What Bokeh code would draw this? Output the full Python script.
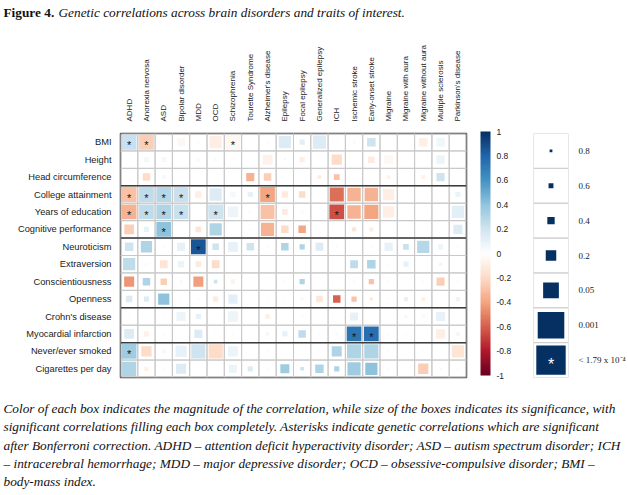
import numpy as np
from bokeh.plotting import figure
from bokeh.models import (ColumnDataSource, LinearColorMapper, ColorBar, FixedTicker,
                          CustomJSTickFormatter, Span, Label, FactorRange, Range1d)
from bokeh.transform import transform
from bokeh.layouts import column, row
from bokeh.embed import file_html
from bokeh.resources import INLINE
from bokeh.core.properties import value

# ---------------- data ----------------
COLS = ["ADHD", "Anorexia nervosa", "ASD", "Bipolar disorder", "MDD", "OCD", "Schizophrenia",
        "Tourette Syndrome", "Alzheimer's disease", "Epilepsy", "Focal epilepsy",
        "Generalized epilepsy", "ICH", "Ischemic stroke", "Early-onset stroke", "Migraine",
        "Migraine with aura", "Migraine without aura", "Multiple sclerosis", "Parkinson's disease"]
ROWS = ["BMI", "Height", "Head circumference", "College attainment", "Years of education",
        "Cognitive performance", "Neuroticism", "Extraversion", "Conscientiousness", "Openness",
        "Crohn's disease", "Myocardial infarction", "Never/ever smoked", "Cigarettes per day"]
GROUP_SIZES = [3, 3, 4, 2, 2]

# genetic correlation (rows x cols)
R = [
    [0.22, -0.25, 0, -0.05, 0.03, -0.1, -0.05, 0, 0.02, 0.15, 0.12, 0.15, 0.02, 0.05, 0.2, 0, 0.02, -0.1, 0.06, 0],
    [0, 0.05, -0.05, 0, 0.03, 0.03, 0.01, 0, -0.08, 0.05, -0.1, 0.02, -0.2, 0.01, -0.12, -0.05, 0, 0, 0.07, 0],
    [-0.02, -0.2, 0.05, 0.01, 0, 0, 0.01, -0.35, -0.25, 0, 0, -0.12, -0.3, 0.01, 0, -0.08, 0.01, -0.08, 0.2, 0],
    [-0.3, 0.25, 0.28, 0.22, -0.1, 0.15, 0.05, 0.1, -0.4, -0.12, -0.2, 0, -0.55, -0.35, -0.35, -0.1, 0, 0.01, 0, 0.08],
    [-0.35, 0.25, 0.3, 0.22, 0, 0.2, 0.07, 0.02, -0.3, -0.12, -0.05, 0, -0.65, -0.35, -0.4, -0.1, 0, 0, 0, 0.12],
    [-0.25, 0.1, 0.4, 0, -0.15, 0.3, -0.02, 0.02, -0.35, -0.2, -0.4, 0, 0, -0.15, -0.1, -0.02, 0, 0, 0, 0.15],
    [0.2, 0.3, 0.02, 0.1, 0.85, 0.2, 0.1, 0.2, 0.02, 0.3, 0.3, 0.15, 0.02, 0, 0.02, 0.1, 0.22, 0.28, 0.07, 0.02],
    [0.25, -0.05, -0.15, 0.08, -0.12, -0.2, 0, 0, 0, 0, 0, 0.02, 0, 0.25, 0.3, 0.02, 0.1, 0, -0.08, 0],
    [-0.45, 0.3, -0.25, -0.05, -0.42, 0.2, -0.08, 0, 0, 0.02, 0.3, 0, 0, -0.05, -0.3, 0.02, 0, 0.02, -0.25, 0.02],
    [0.15, 0.15, 0.4, 0.02, 0.02, -0.12, 0.12, 0, 0.02, 0.02, 0.05, -0.15, -0.6, -0.3, -0.15, 0.02, 0.1, -0.1, 0, 0.08],
    [-0.02, -0.02, 0.02, 0.07, 0.1, 0, 0.07, 0.02, -0.1, -0.02, 0.02, 0, 0, 0.1, 0, 0, 0.05, -0.05, 0.1, 0],
    [0.15, -0.08, 0.02, 0, 0.15, 0.02, 0.02, 0, 0.05, 0.1, 0.25, 0.02, 0.03, 0.72, 0.75, 0.02, 0.02, 0, -0.1, 0.05],
    [0.35, -0.2, 0.05, 0.1, 0.2, -0.2, 0.08, 0, 0.02, 0, 0, 0.02, 0.3, 0.3, 0.3, 0.02, 0, 0.02, 0.02, -0.15],
    [0.3, -0.08, 0.02, 0.15, 0, 0, 0.08, 0.15, 0.02, 0.35, 0.2, 0.3, 0.3, 0.35, 0.4, 0.02, 0, -0.25, -0.05, 0.02],
]
# p-values (rows x cols)
P = [
    [1e-5, 1e-5, 0.95, 0.04, 0.6, 0.002, 1e-5, 0.95, 0.6, 0.002, 0.2, 0.001, 0.7, 0.6, 0.03, 0.95, 0.7, 0.03, 0.03, 0.95],
    [0.95, 0.2, 0.2, 0.95, 0.5, 0.5, 0.7, 0.95, 0.012, 0.6, 0.2, 0.7, 0.008, 0.7, 0.1, 0.03, 0.95, 0.95, 0.03, 0.95],
    [0.6, 0.06, 0.4, 0.7, 0.95, 0.95, 0.7, 0.04, 0.06, 0.95, 0.95, 0.4, 0.15, 0.7, 0.95, 0.4, 0.7, 0.4, 0.04, 0.95],
    [1e-5, 1e-5, 1e-5, 1e-5, 0.1, 0.002, 0.2, 0.2, 1e-5, 0.1, 0.1, 0.95, 3e-4, 7e-4, 7e-4, 0.004, 0.95, 0.7, 0.95, 0.2],
    [1e-5, 1e-5, 1e-5, 1e-5, 0.95, 1e-5, 0.006, 0.6, 4e-4, 0.15, 0.5, 0.95, 1e-5, 7e-4, 3e-4, 0.004, 0.95, 0.95, 0.95, 0.002],
    [0.012, 0.2, 1e-5, 0.95, 0.15, 0.002, 0.6, 0.6, 0.001, 0.06, 0.06, 0.95, 0.95, 0.3, 0.3, 0.6, 0.95, 0.95, 0.95, 0.02],
    [0.03, 0.004, 0.6, 0.04, 1e-5, 0.1, 0.012, 0.06, 0.6, 0.06, 0.2, 0.05, 0.6, 0.95, 0.6, 0.04, 0.15, 0.002, 0.2, 0.6],
    [0.002, 0.6, 0.05, 0.1, 0.15, 0.05, 0.95, 0.95, 0.95, 0.95, 0.95, 0.6, 0.95, 0.05, 0.03, 0.6, 0.2, 0.95, 0.5, 0.95],
    [0.01, 0.06, 0.1, 0.5, 0.01, 0.4, 0.3, 0.95, 0.95, 0.6, 0.2, 0.95, 0.95, 0.6, 0.2, 0.6, 0.95, 0.6, 0.04, 0.6],
    [0.1, 0.2, 0.004, 0.6, 0.6, 0.2, 0.02, 0.95, 0.6, 0.6, 0.6, 0.1, 0.06, 0.2, 0.5, 0.6, 0.3, 0.4, 0.95, 0.3],
    [0.6, 0.6, 0.7, 0.02, 0.2, 0.95, 0.008, 0.7, 0.3, 0.6, 0.6, 0.95, 0.95, 0.04, 0.95, 0.95, 0.5, 0.4, 0.02, 0.95],
    [0.012, 0.2, 0.6, 0.95, 0.04, 0.6, 0.6, 0.95, 0.4, 0.2, 0.06, 0.6, 0.5, 1e-5, 1e-5, 0.6, 0.6, 0.95, 0.02, 0.3],
    [1e-5, 0.008, 0.4, 0.004, 3e-4, 3e-4, 0.01, 0.95, 0.6, 0.95, 0.95, 0.6, 0.01, 3e-4, 3e-4, 0.6, 0.95, 0.6, 0.6, 0.002],
    [3e-4, 0.3, 0.6, 0.01, 0.95, 0.95, 0.05, 0.2, 0.6, 0.02, 0.4, 0.03, 0.2, 0.001, 0.002, 0.6, 0.95, 0.008, 0.6, 0.6],
]
BONFERRONI = 1.79e-4
LEG_P = [0.8, 0.6, 0.4, 0.2, 0.05, 0.001, 1.79e-4]
LEG_LABELS = ["0.8", "0.6", "0.4", "0.2", "0.05", "0.001", "< 1.79 x 10\u207b\u2074"]
CB_TICKS = [-1, -0.8, -0.6, -0.4, -0.2, 0, 0.2, 0.4, 0.6, 0.8, 1]

TITLE_BOLD = "Figure 4."
TITLE_ITALIC = "Genetic correlations across brain disorders and traits of interest."
CAPTION = [
    "Color of each box indicates the magnitude of the correlation, while size of the boxes indicates its significance, with",
    "significant correlations filling each box completely. Asterisks indicate genetic correlations which are significant",
    "after Bonferroni correction. ADHD \u2013 attention deficit hyperactivity disorder; ASD \u2013 autism spectrum disorder; ICH",
    "\u2013 intracerebral hemorrhage; MDD \u2013 major depressive disorder; OCD \u2013 obsessive-compulsive disorder; BMI \u2013",
    "body-mass index.",
]

# ---------------- styling helpers ----------------
ANCHORS = ["#67001F", "#B2182B", "#D6604D", "#F4A582", "#FDDBC7", "#FFFFFF",
           "#D1E5F0", "#92C5DE", "#4393C3", "#2166AC", "#053061"]


def ramp(anchors, n):
    rgb = np.array([[int(a[i:i + 2], 16) for i in (1, 3, 5)] for a in anchors], float)
    pos = np.linspace(0, 1, len(anchors))
    t = np.linspace(0, 1, n)
    out = np.stack([np.interp(t, pos, rgb[:, k]) for k in range(3)], axis=1)
    return ["#%02x%02x%02x" % tuple(int(round(v)) for v in c) for c in out]


PALETTE = ramp(ANCHORS, 200)
mapper = LinearColorMapper(palette=PALETTE, low=-1, high=1)

SIZE_LOGP = [0, 0.097, 0.222, 0.398, 0.699, 1.301, 3.0, 3.747, 6.0]
SIZE_FRAC = [0, 0.08, 0.14, 0.21, 0.30, 0.45, 0.76, 0.84, 0.86]


def box_size(p):
    return np.interp(-np.log10(np.asarray(p, float)), SIZE_LOGP, SIZE_FRAC)


SANS = "Liberation Sans"
SERIF = "Liberation Serif"

# ---------------- heatmap ----------------
xs, ys, rs, ps = [], [], [], []
for i, rname in enumerate(ROWS):
    for j, cname in enumerate(COLS):
        xs.append(cname)
        ys.append(rname)
        rs.append(R[i][j])
        ps.append(P[i][j])
ps = np.array(ps)
src = ColumnDataSource(dict(x=xs, y=ys, r=rs, s=box_size(ps)))
sig = ps < BONFERRONI
star_src = ColumnDataSource(dict(x=[x for x, k in zip(xs, sig) if k], y=[y for y, k in zip(ys, sig) if k]))

HEAD_H = 26
main = figure(width=470, height=359, x_range=FactorRange(*COLS), y_range=FactorRange(*ROWS[::-1]),
              x_axis_location="above", toolbar_location=None, output_backend="svg",
              min_border_left=120, min_border_right=4, min_border_top=107, min_border_bottom=8)
main.rect(x="x", y="y", width=1, height=1, source=src, fill_color=None,
          line_color="#c8c8c8", line_width=1)
main.rect(x="x", y="y", width="s", height="s", source=src,
          fill_color=transform("r", mapper), line_color=None)
main.text(x="x", y="y", text=value("*"), source=star_src, text_align="center",
          text_baseline="middle", text_font_size="11px", text_color="#111111", y_offset=3,
          text_font=value(SANS))

nrows = len(ROWS)
cum = 0
for g in GROUP_SIZES[:-1]:
    cum += g
    main.add_layout(Span(location=nrows - cum, dimension="width", line_color="#3c3c3c", line_width=1.5))

main.outline_line_color = "#3c3c3c"
main.outline_line_width = 1.5
main.xgrid.grid_line_color = None
main.ygrid.grid_line_color = None
for ax in (main.xaxis[0], main.yaxis[0]):
    ax.axis_line_color = None
    ax.major_tick_line_color = None
    ax.minor_tick_line_color = None
    ax.major_label_text_font = SANS
    ax.major_label_text_color = "#1a1a1a"
main.xaxis.major_label_text_font_size = "8px"
main.yaxis.major_label_text_font_size = "9.3px"
main.xaxis.major_label_orientation = np.pi / 2
main.xaxis.major_label_standoff = 6
main.yaxis.major_label_standoff = 3

# ---------------- legends ----------------
pfig = figure(width=158, height=359, x_range=FactorRange("p"), y_range=FactorRange(*LEG_LABELS[::-1]),
              x_axis_location=None, y_axis_location="right", toolbar_location=None,
              output_backend="svg", min_border_left=63, min_border_right=60,
              min_border_top=107, min_border_bottom=5)
lsrc = ColumnDataSource(dict(x=["p"] * len(LEG_P), y=LEG_LABELS, s=box_size(LEG_P),
                             r=[1] * len(LEG_P)))
pfig.rect(x="x", y="y", width=1, height=1, source=lsrc, fill_color=None, line_color="#d0d0d0")
pfig.rect(x="x", y="y", width="s", height="s", source=lsrc,
          fill_color=transform("r", mapper), line_color=None)
pfig.text(x=["p"], y=[LEG_LABELS[-1]], text=["*"], text_align="center", text_baseline="middle",
          text_color="white", text_font_size="16px", y_offset=4, text_font=value(SANS))
pfig.outline_line_color = None
pfig.xgrid.grid_line_color = None
pfig.ygrid.grid_line_color = None
ay = pfig.yaxis[0]
ay.axis_line_color = None
ay.major_tick_line_color = None
ay.minor_tick_line_color = None
ay.major_label_text_font = SERIF
ay.major_label_text_font_size = "9px"
ay.major_label_text_color = "#1a1a1a"
ay.major_label_standoff = 4

cb = ColorBar(color_mapper=mapper, ticker=FixedTicker(ticks=CB_TICKS),
              formatter=CustomJSTickFormatter(code="return tick.toString()"),
              width=10, height=244, location=(-53, 2), padding=0, margin=0, label_standoff=6,
              major_tick_line_color=None, minor_tick_line_color=None, bar_line_color=None,
              border_line_color=None, background_fill_color=None,
              major_label_text_font=SANS, major_label_text_font_size="8.5px",
              major_label_text_color="#1a1a1a")
pfig.add_layout(cb, "center")

for txt, x, y in [("Genetic", -53, 277), ("correlation", -53, 265),
                  ("P-value", 0, 277), ("significance", 0, 265)]:
    pfig.add_layout(Label(x=x, y=y, x_units="screen", y_units="screen", text=txt,
                          text_font=SERIF, text_font_size="10.5px", text_baseline="middle",
                          text_color="#1a1a1a"))

# ---------------- title / caption ----------------
head = figure(width=628, height=HEAD_H, x_range=Range1d(0, 628), y_range=Range1d(HEAD_H, 0),
              x_axis_location=None, y_axis_location=None, toolbar_location=None,
              output_backend="svg", min_border=0)
head.text(x=[3], y=[12], text=[TITLE_BOLD], text_font=value(SERIF), text_font_style="bold",
          text_font_size="13.3px", text_baseline="middle", text_color="#111111")
head.text(x=[58], y=[12], text=[TITLE_ITALIC], text_font=value(SERIF), text_font_style="italic",
          text_font_size="13.3px", text_baseline="middle", text_color="#111111")
head.outline_line_color = None
head.grid.grid_line_color = None

CAP_H = 110
cap = figure(width=628, height=CAP_H, x_range=Range1d(0, 628), y_range=Range1d(CAP_H, 0),
             x_axis_location=None, y_axis_location=None, toolbar_location=None,
             output_backend="svg", min_border=0)
cap.text(x=[3] * len(CAPTION), y=[23 + 18.3 * k for k in range(len(CAPTION))], text=CAPTION,
         text_font=value(SERIF), text_font_style="italic", text_font_size="13.3px",
         text_baseline="middle", text_color="#111111")
cap.outline_line_color = None
cap.grid.grid_line_color = None

layout = column(head, row(main, pfig), cap)
open("out.html", "w").write(file_html(layout, INLINE))
